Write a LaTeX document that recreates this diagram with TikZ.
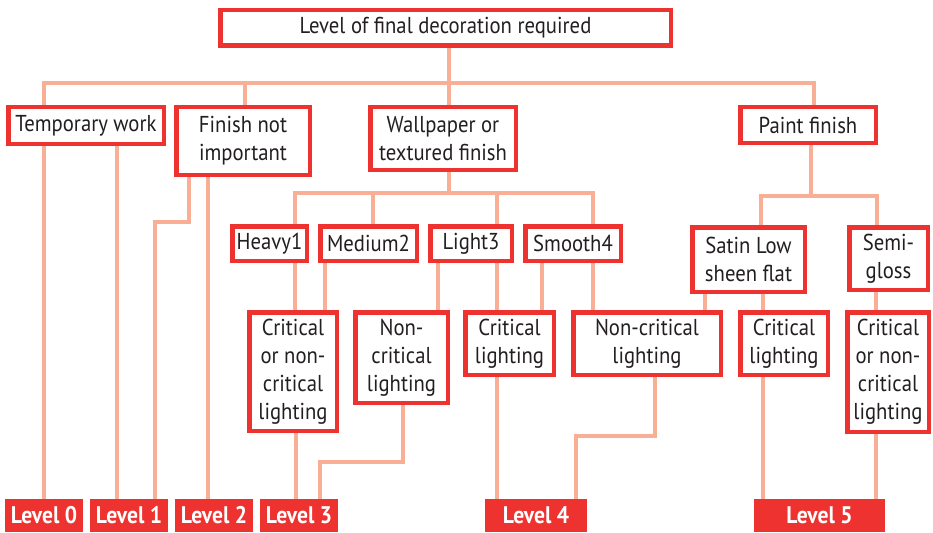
\documentclass[tikz,border=0pt]{standalone}
\usepackage{fontspec}
\setmainfont[FakeStretch=0.9]{PT Sans}
\usetikzlibrary{backgrounds}
\definecolor{boxred}{RGB}{238,50,48}
\definecolor{linkpink}{RGB}{249,174,150}
\definecolor{inkgray}{RGB}{35,31,32}
\begin{document}
\begin{tikzpicture}[x=1pt,y=-1pt,
  box/.style={draw=boxred, line width=4.5pt, fill=white, inner sep=0pt, align=center,
    text=inkgray, font=\fontsize{23}{28}\selectfont},
  levelbox/.style={fill=boxred, inner sep=0pt, minimum height=33, text=white,
    font=\fontsize{24}{26}\selectfont\bfseries},
  link/.style={draw=linkpink, line width=4pt}]
\useasboundingbox (0,0) rectangle (933,532);

% question and the four kinds of finish
\node[box, minimum width=450.5, minimum height=35.5] (top) at (445.5,28) {Level of final decoration required};
\node[box, minimum width=155.5, minimum height=36.5] (tw) at (86,125.5) {Temporary work};
\node[box, minimum width=133.5, minimum height=67.5] (fni) at (243,141) {Finish not\\important};
\node[box, minimum width=145.5, minimum height=62.5] (wall) at (443,138.5) {Wallpaper or\\textured finish};
\node[box, minimum width=135.5, minimum height=35.5] (paint) at (808,125) {Paint finish};

% wallpaper grades and paint sheen
\node[box, minimum width=74.5, minimum height=34.5] (heavy) at (269.5,243.5) {Heavy1};
\node[box, minimum width=96.5, minimum height=34.5] (medium) at (368.5,243.5) {Medium2};
\node[box, minimum width=81.5, minimum height=34.5] (light) at (471,243.5) {Light3};
\node[box, minimum width=95.5, minimum height=34.5] (smooth) at (573,243.5) {Smooth4};
\node[box, minimum width=112.5, minimum height=64.5] (satin) at (748.5,259.5) {Satin Low\\sheen flat};
\node[box, minimum width=78.5, minimum height=62.5] (semi) at (888.5,258.5) {Semi-\\gloss};

% lighting
\node[box, minimum width=87.5, minimum height=118.5] (crit1) at (293,371.5) {Critical\\or non-\\critical\\lighting};
\node[box, minimum width=92.5, minimum height=90.5] (noncrit1) at (401.5,357.5) {Non-\\critical\\lighting};
\node[box, minimum width=88.5, minimum height=62.5] (crit2) at (509.5,343.5) {Critical\\lighting};
\node[box, minimum width=147.5, minimum height=62.5] (noncrit2) at (647,343.5) {Non-critical\\lighting};
\node[box, minimum width=87.5, minimum height=62.5] (crit3) at (784,343.5) {Critical\\lighting};
\node[box, minimum width=81.5, minimum height=119.5] (crit4) at (888,372) {Critical\\or non-\\critical\\lighting};

% levels
\node[levelbox, minimum width=78] (lev0) at (44,515.5) {Level 0};
\node[levelbox, minimum width=78] (lev1) at (129,515.5) {Level 1};
\node[levelbox, minimum width=78] (lev2) at (214,515.5) {Level 2};
\node[levelbox, minimum width=78] (lev3) at (299,515.5) {Level 3};
\node[levelbox, minimum width=102] (lev4) at (536,515.5) {Level 4};
\node[levelbox, minimum width=131] (lev5) at (819.5,515.5) {Level 5};

\coordinate (j1) at (449,83);
\coordinate (j2) at (449,193);
\coordinate (j3) at (811,196);

\begin{scope}[on background layer]
\draw[link] (top.south -| j1) -- (j1);
\draw[link] (tw.north -| 44,0) |- (j1) -| (paint.north -| 814,0);
\draw[link] (fni.north -| 245,0) -- (245,0 |- j1);
\draw[link] (j1) -- (wall.north -| j1);

\draw[link] (wall.south -| j2) -- (j2);
\draw[link] (heavy.north -| 295,0) |- (j2) -| (smooth.north -| 593,0);
\draw[link] (medium.north -| 373,0) -- (373,0 |- j2);
\draw[link] (light.north -| 497,0) -- (497,0 |- j2);

\draw[link] (paint.south -| j3) -- (j3);
\draw[link] (satin.north -| 761,0) |- (j3) -| (semi.north -| 877,0);

\draw[link] (heavy.south -| 295,0) -- (crit1.north -| 295,0);
\draw[link] (medium.south -| 325,0) -- (crit1.north -| 325,0);
\draw[link] (light.south -| 438,0) -- (noncrit1.north -| 438,0);
\draw[link] (light.south -| 497,0) -- (crit2.north -| 497,0);
\draw[link] (smooth.south -| 542,0) -- (crit2.north -| 542,0);
\draw[link] (smooth.south -| 593,0) -- (noncrit2.north -| 593,0);
\draw[link] (satin.south -| 705,0) -- (noncrit2.north -| 705,0);
\draw[link] (satin.south -| 763,0) -- (crit3.north -| 763,0);
\draw[link] (semi.south -| 876,0) -- (crit4.north -| 876,0);

\draw[link] (tw.south -| 44,0) -- (lev0.north -| 44,0);
\draw[link] (tw.south -| 117,0) -- (lev1.north -| 117,0);
\draw[link] (fni.south -| 189,0) |- (155,222) -- (lev1.north -| 155,0);
\draw[link] (fni.south -| 208,0) -- (lev2.north -| 208,0);
\draw[link] (crit1.south -| 296,0) -- (lev3.north -| 296,0);
\draw[link] (noncrit1.south -| 403,0) |- (320,462) -- (lev3.north -| 320,0);
\draw[link] (crit2.south -| 497,0) -- (lev4.north -| 497,0);
\draw[link] (noncrit2.south -| 655,0) |- (576,436) -- (lev4.north -| 576,0);
\draw[link] (crit3.south -| 763,0) -- (lev5.north -| 763,0);
\draw[link] (crit4.south -| 876,0) -- (lev5.north -| 876,0);
\end{scope}
\end{tikzpicture}
\end{document}
